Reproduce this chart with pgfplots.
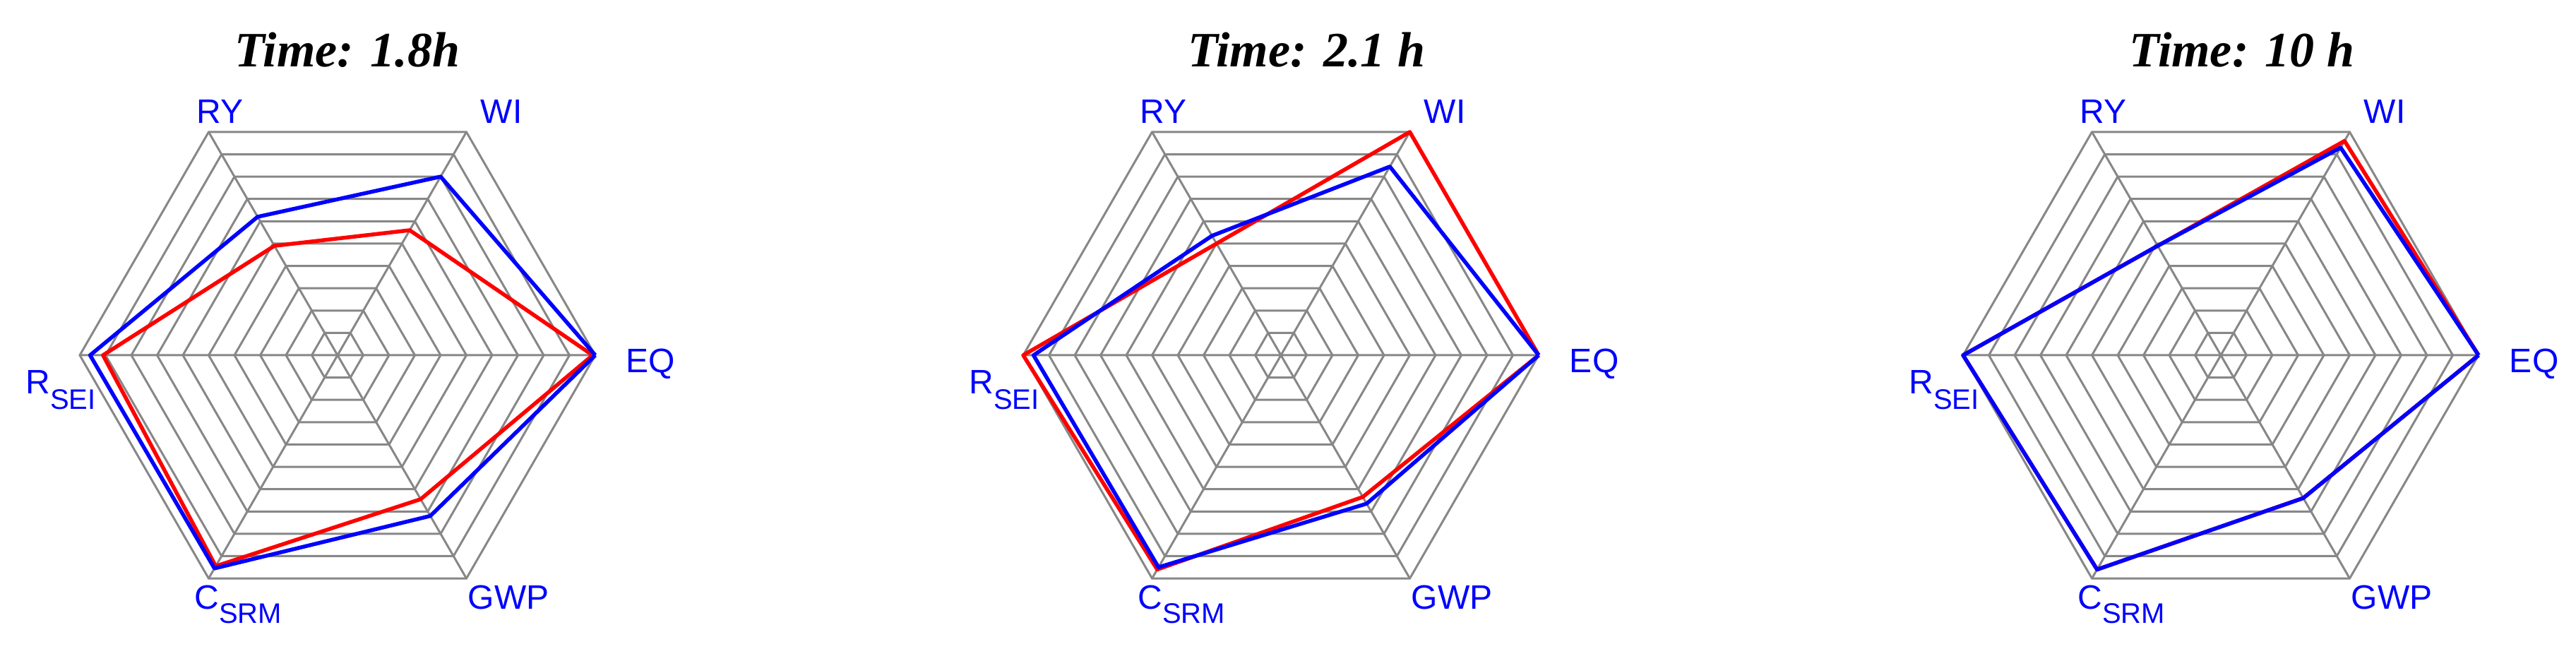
\documentclass[border=0pt]{standalone}
\usepackage{pgfplots}
\pgfplotsset{compat=1.18}
\usepgfplotslibrary{polar}
\usepackage{fontspec}
\setmainfont{Liberation Serif}
\newfontfamily\labfont{Liberation Sans}

\definecolor{gridgray}{RGB}{135,135,135}
\definecolor{sred}{RGB}{255,0,0}
\definecolor{sblue}{RGB}{0,0,255}

\pgfplotsset{
  radar/.style={
    anchor=origin, x=36.5pt, y=36.5pt,
    xmin=-1, xmax=1, ymin=-0.87, ymax=0.87,
    hide axis, clip=false,
  },
  gridln/.style={gridgray, line width=0.3pt, data cs=polar, forget plot},
  serie/.style={line width=0.55pt, line join=round, data cs=polar, forget plot},
}
\tikzset{
  lab/.style={sblue, inner sep=0pt, font=\labfont\fontsize{4.8}{5}\selectfont},
  ttl/.style={inner sep=0pt, anchor=base, font=\fontsize{7}{8}\selectfont\bfseries\itshape},
}

% #1 centre x, #2 title, #3 title shift, #4 red series, #5 blue series
\newcommand{\radar}[5]{%
\begin{axis}[radar, at={(#1,43.3pt)}]
  \pgfplotsinvokeforeach{0.1,0.2,0.3,0.4,0.5,0.6,0.7,0.8,0.9,1.0}{
    \addplot[gridln] coordinates {(0,##1) (60,##1) (120,##1) (180,##1) (240,##1) (300,##1) (360,##1)};
  }
  \addplot[gridln] coordinates {(0,1) (0,0) (60,1) (60,0) (120,1) (120,0) (180,1) (180,0) (240,1) (240,0) (300,1)};
  \addplot[serie, sred] coordinates {#4};
  \addplot[serie, sblue] coordinates {#5};
  \node[lab, anchor=base west] at (axis cs:1.115,-0.066) {EQ};
  \node[lab, anchor=base] at (axis cs:-0.456,0.899) {RY};
  \node[lab, anchor=base] at (axis cs:0.636,0.899) {WI};
  \node[lab, anchor=base] at (axis cs:0.663,-0.986) {GWP};
  \node[lab, anchor=base west] at (axis cs:-0.56,-0.986) {C\raisebox{-2pt}{\fontsize{4}{4}\selectfont SRM}};
  \node[lab, anchor=base west] at (axis cs:-1.215,-0.148) {R\raisebox{-2.2pt}{\fontsize{4}{4}\selectfont SEI}};
  \node[ttl] at (axis cs:#3,1.118) {#2};
\end{axis}}

\begin{document}
\begin{tikzpicture}
\useasboundingbox (0,0) rectangle (364.8pt,93.6pt);

% angles: EQ 0, WI 60, RY 120, R_SEI 180, C_SRM 240, GWP 300
\radar{47.8pt}{Time: 1.8h}{0.038}
  {(0,0.99) (60,0.56) (120,0.49) (180,0.91) (240,0.945) (300,0.645) (360,0.99)}
  {(0,1.0) (60,0.80) (120,0.62) (180,0.96) (240,0.955) (300,0.72) (360,1.0)}

\radar{181.4pt}{Time: 2.1 h}{0.099}
  {(0,1.0) (60,1.0) (120,0.50) (180,1.0) (240,0.96) (300,0.635) (360,1.0)}
  {(0,1.0) (60,0.845) (120,0.535) (180,0.96) (240,0.95) (300,0.665) (360,1.0)}

\radar{314.5pt}{Time: 10 h}{0.082}
  {(0,1.0) (60,0.96) (120,0.49) (180,1.0) (240,0.96) (300,0.64) (360,1.0)}
  {(0,1.0) (60,0.93) (120,0.49) (180,1.0) (240,0.96) (300,0.64) (360,1.0)}

\end{tikzpicture}
\end{document}
